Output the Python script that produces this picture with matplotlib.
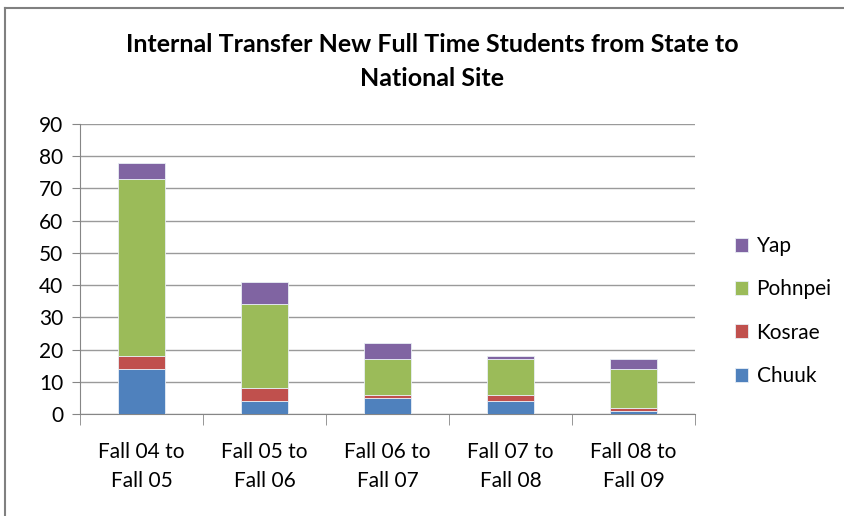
import matplotlib
matplotlib.use("Agg")
import matplotlib.pyplot as plt
from matplotlib.lines import Line2D
import numpy as np

categories = ["Fall 04 to\nFall 05", "Fall 05 to\nFall 06", "Fall 06 to\nFall 07",
              "Fall 07 to\nFall 08", "Fall 08 to\nFall 09"]
chuuk = [14, 4, 5, 4, 1]
kosrae = [4, 4, 1, 2, 1]
pohnpei = [55, 26, 11, 11, 12]
yap = [5, 7, 5, 1, 3]
series_names = ["Chuuk", "Kosrae", "Pohnpei", "Yap"]
colors = ["#4F81BD", "#C0504D", "#9BBB59", "#8064A2"]

plt.rcParams['font.family'] = ['Lato', 'DejaVu Sans']

W, H = 844, 516
fig = plt.figure(figsize=(W/100, H/100), dpi=100)
ax = fig.add_axes([80/W, 1-414/H, 615/W, 290/H])

x = np.arange(len(categories))
bottom = np.zeros(len(categories))
handles = []
for name, vals, c in zip(series_names, [chuuk, kosrae, pohnpei, yap], colors):
    b = ax.bar(x, vals, bottom=bottom, width=0.39, color=c, edgecolor="#e8eef5",
               linewidth=0.6, label=name, zorder=3)
    bottom += np.array(vals)
    handles.append(b)

ax.set_xlim(-0.5, len(categories) - 0.5)
ax.set_ylim(0, 90)
ax.set_yticks(range(0, 91, 10))
ax.yaxis.grid(True, color="#9a9a9a", linewidth=1.0, zorder=0)
ax.set_axisbelow(True)
for s in ["top", "right"]:
    ax.spines[s].set_visible(False)
ax.spines["left"].set_color("#868686")
ax.spines["bottom"].set_color("#868686")
ax.tick_params(axis="y", direction="out", length=6, color="#868686", labelsize=15, pad=6)
ax.set_xticks(x)
ax.set_xticklabels(categories, fontsize=15, linespacing=1.55)
ax.tick_params(axis="x", length=0, pad=20)
ax.set_xticks(np.arange(-0.5, len(categories)), minor=True)
ax.tick_params(axis="x", which="minor", length=8, direction="out", color="#868686")

fig.text(432/W, 1-45/H, "Internal Transfer New Full Time Students from State to",
         ha="center", va="center", fontsize=18, fontweight="bold")
fig.text(432/W, 1-78/H, "National Site", ha="center", va="center",
         fontsize=18, fontweight="bold")

leg = fig.legend(handles[::-1], series_names[::-1], loc="center left",
                 bbox_to_anchor=(716/W, 1-311/H), frameon=False, fontsize=15,
                 handlelength=0.65, handleheight=0.65, labelspacing=1.12, handletextpad=0.4)

# outer chart frame (partially cropped)
fig.add_artist(Line2D([5/W, 5/W], [0, 1-8/H], color="#808080", linewidth=1.5, transform=fig.transFigure))
fig.add_artist(Line2D([5/W, 1], [1-8/H, 1-8/H], color="#808080", linewidth=1.5, transform=fig.transFigure))

fig.savefig("out.png", dpi=100)
